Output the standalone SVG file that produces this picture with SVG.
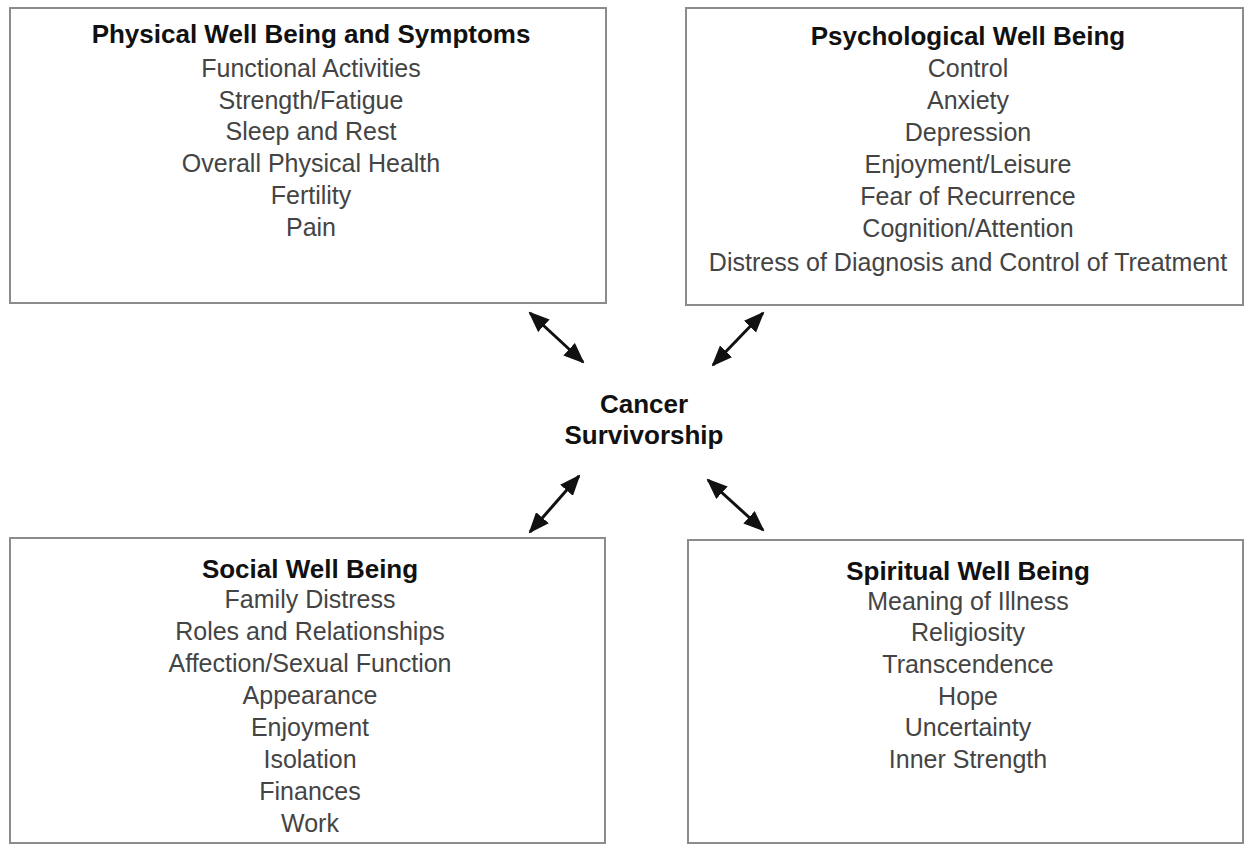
<svg xmlns="http://www.w3.org/2000/svg" width="1246" height="846" viewBox="0 0 1246 846">
<style>
.box{fill:#fff;stroke:#8c8c8c;stroke-width:2}
.t{font-family:"Liberation Sans",Arial,sans-serif;font-weight:bold;font-size:26px;fill:#111;text-anchor:middle}
.i{font-family:"Liberation Sans",Arial,sans-serif;font-size:25px;fill:#444;text-anchor:middle}
.c{stroke:#111;stroke-width:3;fill:none;marker-start:url(#ah);marker-end:url(#ah)}
</style>
<defs>
<marker id="ah" viewBox="0 0 10 10" refX="9" refY="5" markerWidth="21" markerHeight="17" markerUnits="userSpaceOnUse" orient="auto-start-reverse" preserveAspectRatio="none">
<path d="M0,0 L10,5 L0,10 Z" fill="#111"/>
</marker>
</defs>
<rect width="1246" height="846" fill="#fff"/>
<g id="physical">
<rect class="box" x="10" y="8" width="596" height="295"/>
<text class="t" x="311" y="43">Physical Well Being and Symptoms</text>
<text class="i" x="311" y="77">Functional Activities</text>
<text class="i" x="311" y="109">Strength/Fatigue</text>
<text class="i" x="311" y="140">Sleep and Rest</text>
<text class="i" x="311" y="172">Overall Physical Health</text>
<text class="i" x="311" y="204">Fertility</text>
<text class="i" x="311" y="236">Pain</text>
</g>
<g id="psychological">
<rect class="box" x="686" y="8" width="557" height="297"/>
<text class="t" x="968" y="45">Psychological Well Being</text>
<text class="i" x="968" y="77">Control</text>
<text class="i" x="968" y="109">Anxiety</text>
<text class="i" x="968" y="141">Depression</text>
<text class="i" x="968" y="173">Enjoyment/Leisure</text>
<text class="i" x="968" y="205">Fear of Recurrence</text>
<text class="i" x="968" y="237">Cognition/Attention</text>
<text class="i" x="968" y="271">Distress of Diagnosis and Control of Treatment</text>
</g>
<g id="center">
<text class="t" x="644" y="413">Cancer</text>
<text class="t" x="644" y="444">Survivorship</text>
</g>
<g id="social">
<rect class="box" x="10" y="538" width="595" height="305"/>
<text class="t" x="310" y="578">Social Well Being</text>
<text class="i" x="310" y="608">Family Distress</text>
<text class="i" x="310" y="640">Roles and Relationships</text>
<text class="i" x="310" y="672">Affection/Sexual Function</text>
<text class="i" x="310" y="704">Appearance</text>
<text class="i" x="310" y="736">Enjoyment</text>
<text class="i" x="310" y="768">Isolation</text>
<text class="i" x="310" y="800">Finances</text>
<text class="i" x="310" y="832">Work</text>
</g>
<g id="spiritual">
<rect class="box" x="688" y="540" width="555" height="303"/>
<text class="t" x="968" y="580">Spiritual Well Being</text>
<text class="i" x="968" y="610">Meaning of Illness</text>
<text class="i" x="968" y="641">Religiosity</text>
<text class="i" x="968" y="673">Transcendence</text>
<text class="i" x="968" y="705">Hope</text>
<text class="i" x="968" y="736">Uncertainty</text>
<text class="i" x="968" y="768">Inner Strength</text>
</g>
<g id="connectors">
<line class="c" x1="530" y1="313" x2="583" y2="362"/>
<line class="c" x1="763" y1="313" x2="713" y2="365"/>
<line class="c" x1="579" y1="476" x2="530" y2="532"/>
<line class="c" x1="708" y1="480" x2="763" y2="530"/>
</g>
</svg>
